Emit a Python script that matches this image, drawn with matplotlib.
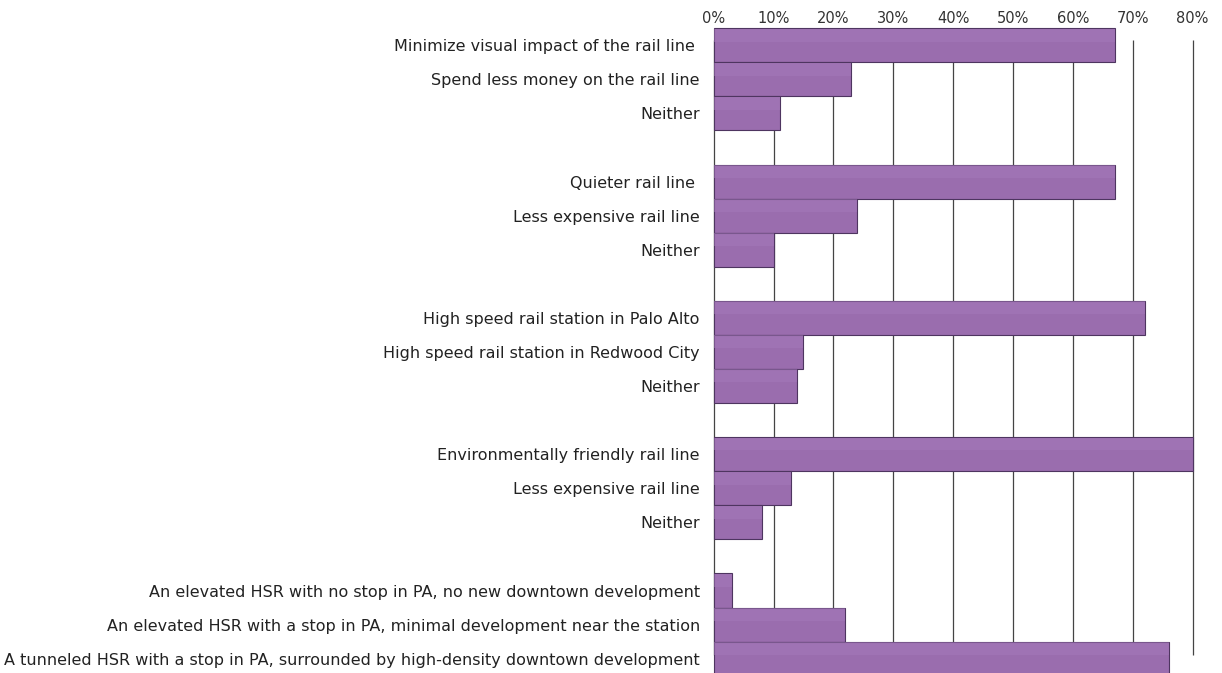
import numpy as np
from matplotlib import pyplot as plt

plt.rcParams['font.family'] = ['DejaVu Sans']

# answers, top to bottom; groups separated by an empty slot
groups = [
    ["Minimize visual impact of the rail line ",
     "Spend less money on the rail line",
     "Neither"],
    ["Quieter rail line ",
     "Less expensive rail line",
     "Neither"],
    ["High speed rail station in Palo Alto",
     "High speed rail station in Redwood City",
     "Neither"],
    ["Environmentally friendly rail line",
     "Less expensive rail line",
     "Neither"],
    ["An elevated HSR with no stop in PA, no new downtown development",
     "An elevated HSR with a stop in PA, minimal development near the station",
     "A tunneled HSR with a stop in PA, surrounded by high-density downtown development"],
]
values = [
    [67, 23, 11],
    [67, 24, 10],
    [72, 15, 14],
    [80, 13, 8],
    [3, 22, 76],
]
ticks = [0, 10, 20, 30, 40, 50, 60, 70, 80]

labels, vals, pos = [], [], []
for g, (names, v) in enumerate(zip(groups, values)):
    for i, (n, x) in enumerate(zip(names, v)):
        labels.append(n)
        vals.append(x)
        pos.append(g * 4 + i)
pos = np.array(pos)

fig = plt.figure(figsize=(12.22, 6.73), dpi=100)
ax = fig.add_axes([0.584, 0.0, 0.392, 0.958])

ax.vlines(ticks, -0.15, 17.9, color="#444444", lw=0.9, zorder=1, clip_on=False)
ax.barh(pos, vals, height=1.0, color="#9a6dae", edgecolor="#4e3560",
        lw=0.8, zorder=3, clip_on=False)
# lighter top strip to give the bars a little shine
ax.barh(pos - 0.3, vals, height=0.38, color="#a57aba", lw=0,
        alpha=0.5, zorder=4, clip_on=False)

ax.set_xlim(0, 80)
ax.set_ylim(18.42, -0.5)
ax.set_yticks(pos)
ax.set_yticklabels(labels, fontsize=11.5, color="#222222")
ax.set_xticks(ticks)
ax.set_xticklabels([f"{t}%" for t in ticks], fontsize=10.5, color="#333333")
ax.xaxis.tick_top()
ax.tick_params(axis="y", length=0, pad=10)
ax.tick_params(axis="x", length=0, pad=1.5)
for s in ax.spines.values():
    s.set_visible(False)
ax.patch.set_visible(False)

plt.savefig("out.png", dpi=100)
